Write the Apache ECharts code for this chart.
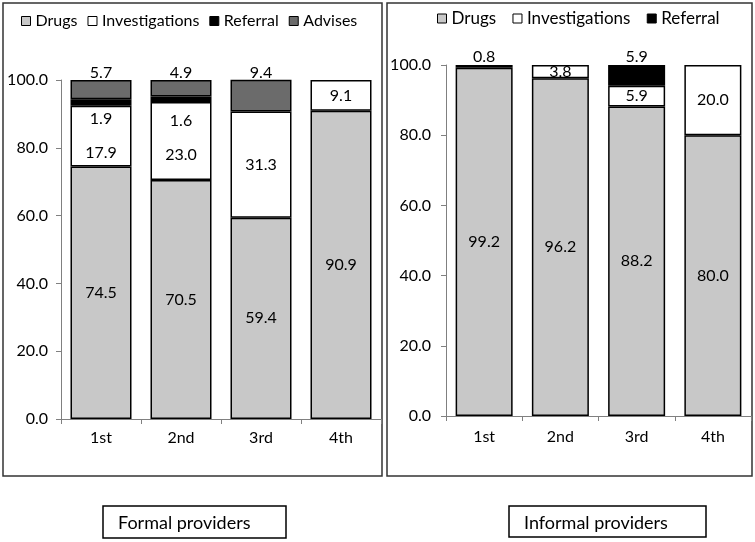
<!DOCTYPE html>
<html><head><meta charset="utf-8">
<script src="https://cdn.jsdelivr.net/npm/echarts@6/dist/echarts.min.js"></script>
<style>html,body{margin:0;padding:0;background:#fff}#c{width:755px;height:542px}</style>
</head><body><div id="c"></div>
<script>
// ---- data ----
const categories = ['1st', '2nd', '3rd', '4th'];
const yTicks = [0, 20, 40, 60, 80, 100];
// Formal providers
const formalDrugs = [74.5, 70.5, 59.4, 90.9];
const formalInvestigations = [17.9, 23.0, 31.3, 9.1];
const formalReferral = [1.9, 1.6, 0, 0];
const formalAdvises = [5.7, 4.9, 9.4, 0];
// Informal providers
const informalDrugs = [99.2, 96.2, 88.2, 80.0];
const informalInvestigations = [0, 3.8, 5.9, 20.0];
const informalReferral = [0.8, 0, 5.9, 0];
const panelTitles = ['Formal providers', 'Informal providers'];

// ---- style ----
const FONT = 'Lato';
const C_DRUG = '#c8c8c8', C_INV = '#ffffff', C_REF = '#000000', C_ADV = '#6b6b6b';
// per-bar vertical nudges of labels (px), layout only
const nudgeFormalInv = [17, 14, 0, 0];
const nudgeFormalRef = [16, 22, 0, 0];

function items(vals, nudges) {
  return vals.map((v, i) => {
    if (v === 0) return { value: '-', label: { show: false } };
    const o = { value: v };
    if (nudges) o.label = { offset: [0, nudges[i]] };
    return o;
  });
}
function bar(name, vals, color, gi, stack, labelPos, nudges, bw, dist) {
  return {
    type: 'bar', name: name, stack: stack, xAxisIndex: gi, yAxisIndex: gi,
    barWidth: bw,
    data: items(vals, nudges),
    itemStyle: { color: color, borderColor: '#000', borderWidth: 1.5 },
    label: { show: true, position: labelPos, distance: dist == null ? 2 : dist, color: '#000',
      fontFamily: FONT, fontSize: 16, formatter: p => Number(p.value).toFixed(1) }
  };
}
const axisCommon = {
  axisLine: { show: true, lineStyle: { color: '#808080', width: 1 } },
  axisTick: { show: true, length: 5, lineStyle: { color: '#808080' } },
  axisLabel: { color: '#000', fontFamily: FONT, fontSize: 16 }
};

const chart = echarts.init(document.getElementById('c'), null, { renderer: 'canvas' });
chart.setOption({
  animation: false,
  legend: [
    { left: 16, top: 8, itemWidth: 9, itemHeight: 9, itemGap: 10,
      data: ['Drugs', 'Investigations', 'Referral', 'Advises'],
      icon: 'rect', textStyle: { fontFamily: FONT, fontSize: 16, color: '#000' },
      itemStyle: { borderColor: '#000', borderWidth: 1 } },
    { left: 432, top: 5, itemWidth: 9, itemHeight: 9, itemGap: 12,
      data: ['Drugs ', 'Investigations ', 'Referral '],
      icon: 'rect', textStyle: { fontFamily: FONT, fontSize: 17, color: '#000' },
      itemStyle: { borderColor: '#000', borderWidth: 1 } }
  ],
  grid: [
    { left: 61, top: 80, width: 320, height: 339 },
    { left: 446, top: 65, width: 305, height: 351 }
  ],
  xAxis: [
    Object.assign({}, axisCommon, { type: 'category', gridIndex: 0, data: categories,
      axisLabel: Object.assign({}, axisCommon.axisLabel, { margin: 11 }) }),
    Object.assign({}, axisCommon, { type: 'category', gridIndex: 1, data: categories,
      axisLabel: Object.assign({}, axisCommon.axisLabel, { margin: 13 }) })
  ],
  yAxis: [
    Object.assign({}, axisCommon, { type: 'value', gridIndex: 0, min: 0, max: 100, interval: 20,
      splitLine: { show: false },
      axisLabel: Object.assign({}, axisCommon.axisLabel, { margin: 13, formatter: v => v.toFixed(1) }) }),
    Object.assign({}, axisCommon, { type: 'value', gridIndex: 1, min: 0, max: 100, interval: 20,
      splitLine: { show: false },
      axisLabel: Object.assign({}, axisCommon.axisLabel, { margin: 15, formatter: v => v.toFixed(1) }) })
  ],
  series: [
    bar('Drugs', formalDrugs, C_DRUG, 0, 'f', 'inside', null, 61),
    bar('Investigations', formalInvestigations, C_INV, 0, 'f', 'inside', nudgeFormalInv, 61),
    bar('Referral', formalReferral, C_REF, 0, 'f', 'inside', nudgeFormalRef, 61),
    bar('Advises', formalAdvises, C_ADV, 0, 'f', 'top', null, 61, -1),
    bar('Drugs ', informalDrugs, C_DRUG, 1, 'i', 'inside', null, 57),
    bar('Investigations ', informalInvestigations, C_INV, 1, 'i', 'inside', null, 57),
    bar('Referral ', informalReferral, C_REF, 1, 'i', 'top', null, 57, 0)
  ],
  graphic: [
    { type: 'rect', shape: { x: 3, y: 3, width: 379, height: 473 }, style: { fill: 'none', stroke: '#333', lineWidth: 1.5 }, silent: true },
    { type: 'rect', shape: { x: 387, y: 3, width: 365, height: 473 }, style: { fill: 'none', stroke: '#333', lineWidth: 1.5 }, silent: true },
    { type: 'rect', shape: { x: 103, y: 506, width: 183, height: 32 }, style: { fill: 'none', stroke: '#000', lineWidth: 1.5 }, silent: true },
    { type: 'rect', shape: { x: 509, y: 506, width: 197, height: 31 }, style: { fill: 'none', stroke: '#000', lineWidth: 1.5 }, silent: true },
    { type: 'text', x: 118, y: 523, style: { text: panelTitles[0], font: '18px ' + FONT, fill: '#000', textVerticalAlign: 'middle' }, silent: true },
    { type: 'text', x: 524, y: 523, style: { text: panelTitles[1], font: '18px ' + FONT, fill: '#000', textVerticalAlign: 'middle' }, silent: true }
  ]
});
</script></body></html>
